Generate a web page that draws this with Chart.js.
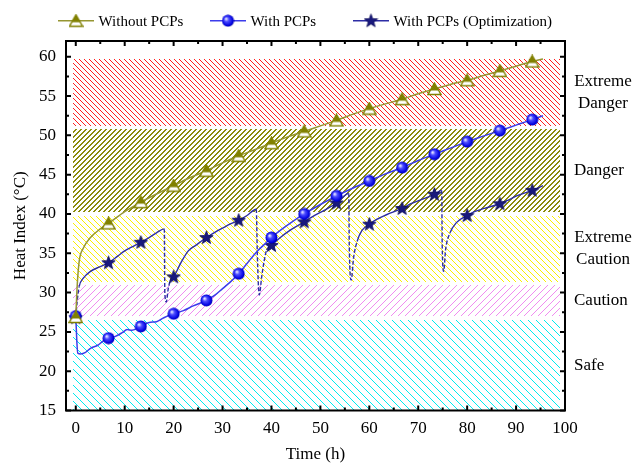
<!DOCTYPE html>
<html>
<head>
<meta charset="utf-8">
<script src="https://cdn.jsdelivr.net/npm/chart.js@4.4.0/dist/chart.umd.min.js"></script>
<style>
    html, body { margin: 0; padding: 0; background: #fff; }
    #wrap { width: 634px; height: 468px; }
</style>
</head>
<body>
<div id="wrap"><canvas id="chart" width="634" height="468"></canvas></div>
<script>
const markerTimes = [0, 6.7, 13.3, 20, 26.7, 33.3, 40, 46.7, 53.3, 60, 66.7, 73.3, 80, 86.7, 93.3];

// Without PCPs
const withoutX = [0, 0.3, 0.7, 1.5, 3, 5, 6.7, 10, 13.3, 16.7, 20, 23.3, 26.7, 30, 33.3, 36.7, 40, 43.3, 46.7,
    50, 53.3, 56.7, 60, 63.3, 66.7, 70, 73.3, 76.7, 80, 83.3, 86.7, 90, 93.3, 95.5];
const withoutY = [26.9, 31, 34, 35.6, 37, 38.1, 38.8, 40.3, 41.5, 42.6, 43.6, 44.6, 45.5, 46.5, 47.4, 48.2, 49.0, 49.8, 50.5,
    51.2, 51.9, 52.7, 53.4, 54.0, 54.6, 55.3, 55.9, 56.5, 57.0, 57.6, 58.2, 58.8, 59.4, 59.7];

// With PCPs
const withX = [0, 0.2, 0.4, 1, 2, 3, 4.5, 5.5, 6.7, 8, 9.5, 10.5, 11.5, 13.3, 15, 16.5, 18, 20, 22, 24, 26.7,
    28.5, 30, 31.5, 33.3, 35, 37, 38.5, 40, 42, 44, 46.7, 50, 53.3, 56.7, 60, 63.3, 66.7, 70, 73.3, 76.7,
    80, 83.3, 86.7, 90, 93.3, 95.5];
const withY = [27, 24, 22.3, 22.2, 22.4, 22.9, 23.3, 23.8, 24.2, 24.4, 24.9, 25.3, 25.2, 25.7, 26.2, 26.3, 26.8, 27.3, 27.7, 28.3, 29.0,
    29.7, 30.5, 31.3, 32.4, 33.7, 35.2, 36.1, 37.0, 38.0, 38.9, 40.0, 41.2, 42.3, 43.3, 44.2, 45.1, 45.9, 46.8, 47.6, 48.4,
    49.2, 49.9, 50.6, 51.3, 52.0, 52.5];

// With PCPs (Optimization)
const optX = [0, 0.3, 0.7, 1.5, 3, 5, 6.7, 8.5, 10, 11.5, 13.3, 15, 16.5, 18.1, 18.2, 18.5, 18.9, 19.3, 20,
    21.5, 23, 24.5, 26.7, 28.5, 30, 31.5, 33.3, 35, 36.9, 37.1, 37.5, 38, 38.5, 39, 40, 42, 44, 46.7,
    48.5, 50, 51.5, 53.3, 55.8, 55.9, 56.3, 56.8, 57.5, 58.5, 60, 61.5, 63.5, 66.7, 68.5, 70.5, 73.3,
    74.8, 74.9, 75.2, 75.6, 76.5, 77.8, 80, 81.5, 83.5, 86.7, 88.5, 90.5, 93.3, 95.5];
const optY = [26.8, 29, 30.8, 31.8, 32.7, 33.3, 33.8, 34.6, 35.3, 35.8, 36.4, 37.0, 37.6, 38.1, 30, 28.8, 30.5, 31.5, 32.0,
    33.8, 35.3, 36.0, 37.0, 37.7, 38.2, 38.7, 39.2, 39.8, 40.6, 35, 29.7, 32, 34, 35.4, 36.0, 37.1, 38, 39.0,
    39.7, 40.2, 40.7, 41.4, 42.6, 36, 31.6, 34.5, 36.5, 37.9, 38.7, 39.3, 39.9, 40.7, 41.3, 41.8, 42.5,
    43.0, 36, 32.7, 35.5, 37.6, 38.9, 39.8, 40.3, 40.7, 41.3, 41.8, 42.4, 43.0, 43.6];

const xTicks = [0, 10, 20, 30, 40, 50, 60, 70, 80, 90, 100];
const yTicks = [15, 20, 25, 30, 35, 40, 45, 50, 55, 60];

// heat index zones
const bandLow = [15, 27, 31.4, 40.2, 51.2];
const bandHigh = [26.5, 31, 39.8, 50.8, 59.7];
const bandNames = [['Safe'], ['Caution'], ['Extreme', 'Caution'], ['Danger'], ['Extreme', 'Danger']];
const bandStart = -0.5, bandEnd = 99;

const serif = '"Liberation Serif", "Times New Roman", serif';
const olive = 'rgb(128,128,0)';

function makeCanvas(w, h, draw) {
    const c = document.createElement('canvas');
    c.width = w;
    c.height = h;
    draw(c.getContext('2d'));
    return c;
}

// crisp diagonal hatch tile
function hatch(color, size, dir, width) {
    return makeCanvas(size, size, g => {
        g.fillStyle = color;
        for (let i = 0; i < size; i++) {
            for (let w = 0; w < width; w++) {
                const px = (i + w) % size;
                g.fillRect(px, dir === '\\' ? i : size - 1 - i, 1, 1);
            }
        }
    });
}

const bandHatch = [
    hatch('rgb(0,235,240)', 8, '\\', 1),
    hatch('rgb(240,140,240)', 7, '/', 1),
    hatch('rgb(250,240,0)', 6, '\\', 1),
    hatch('rgb(140,140,10)', 5, '/', 2),
    hatch('rgb(255,30,30)', 5, '\\', 1),
];

const triangleImg = makeCanvas(15, 14, g => {
    g.beginPath();
    g.moveTo(7.5, 1);
    g.lineTo(14, 12.5);
    g.lineTo(1, 12.5);
    g.closePath();
    g.fillStyle = '#fff';
    g.fill();
    g.save();
    g.clip();
    g.fillStyle = olive;
    g.fillRect(0, 0, 15, 8.5);
    g.restore();
    g.strokeStyle = olive;
    g.lineWidth = 1.4;
    g.stroke();
});

const sphereImg = makeCanvas(13, 13, g => {
    const grad = g.createRadialGradient(4.5, 4.5, 0.5, 6.5, 6.5, 6.5);
    grad.addColorStop(0, '#e8e8ff');
    grad.addColorStop(0.3, '#4d4dff');
    grad.addColorStop(0.8, '#0000e0');
    grad.addColorStop(1, '#00008a');
    g.beginPath();
    g.arc(6.5, 6.5, 6, 0, Math.PI * 2);
    g.fillStyle = grad;
    g.fill();
});

const starImg = makeCanvas(15, 15, g => {
    g.beginPath();
    for (let i = 0; i < 10; i++) {
        const r = i % 2 === 0 ? 7 : 2.9;
        const a = -Math.PI / 2 + i * Math.PI / 5;
        const px = 7.5 + r * Math.cos(a), py = 7.8 + r * Math.sin(a);
        if (i === 0) g.moveTo(px, py); else g.lineTo(px, py);
    }
    g.closePath();
    g.fillStyle = 'rgb(25,25,125)';
    g.fill();
    g.strokeStyle = 'rgb(10,10,90)';
    g.lineWidth = 0.8;
    g.stroke();
});

const isMarker = ctx => ctx.raw && markerTimes.includes(ctx.raw.x) ? 6 : 0;
const toPoints = (xs, ys) => xs.map((x, i) => ({ x: x, y: ys[i] }));

const bandsPlugin = {
    id: 'bands',
    beforeDatasetsDraw(chart) {
        const { ctx, scales: { x, y } } = chart;
        const x0 = Math.round(x.getPixelForValue(bandStart)), x1 = Math.round(x.getPixelForValue(bandEnd));
        ctx.save();
        bandLow.forEach((lo, i) => {
            const yTop = Math.round(y.getPixelForValue(bandHigh[i])), yBot = Math.round(y.getPixelForValue(lo));
            ctx.fillStyle = ctx.createPattern(bandHatch[i], 'repeat');
            ctx.fillRect(x0, yTop, x1 - x0, yBot - yTop);
        });
        ctx.restore();
    },
    afterDatasetsDraw(chart) {
        // frame with inward ticks on all four sides
        const { ctx, chartArea: a, scales: { x, y } } = chart;
        ctx.save();
        ctx.strokeStyle = '#000';
        ctx.lineWidth = 2;
        ctx.strokeRect(a.left, a.top, a.right - a.left, a.bottom - a.top);
        ctx.beginPath();
        for (let v = 0; v <= 100; v += 5) {
            const px = x.getPixelForValue(v), len = v % 10 === 0 ? 5 : 3;
            ctx.moveTo(px, a.bottom); ctx.lineTo(px, a.bottom - len);
            ctx.moveTo(px, a.top); ctx.lineTo(px, a.top + len);
        }
        for (let v = 15; v <= 60; v += 2.5) {
            const py = y.getPixelForValue(v), len = v % 5 === 0 ? 5 : 3;
            ctx.moveTo(a.left, py); ctx.lineTo(a.left + len, py);
            ctx.moveTo(a.right, py); ctx.lineTo(a.right - len, py);
        }
        ctx.stroke();
        ctx.restore();
    },
    afterDraw(chart) {
        const { ctx, scales: { y } } = chart;
        ctx.save();
        ctx.fillStyle = '#000';
        ctx.textBaseline = 'middle';
        ctx.font = '17px ' + serif;
        bandNames.forEach((lines, i) => {
            const yc = y.getPixelForValue((bandLow[i] + bandHigh[i]) / 2);
            if (lines.length === 1) {
                ctx.textAlign = 'left';
                ctx.fillText(lines[0], 574, yc);
            } else {
                ctx.textAlign = 'center';
                ctx.fillText(lines[0], 603, yc - 11);
                ctx.fillText(lines[1], 603, yc + 11);
            }
        });

        // legend
        const legendX = [58, 210, 353];
        const ly = 20.7;
        ctx.font = '15px ' + serif;
        ctx.textAlign = 'left';
        chart.data.datasets.forEach((ds, i) => {
            const lx = legendX[i];
            ctx.strokeStyle = ds.borderColor;
            ctx.lineWidth = 1.5;
            ctx.beginPath();
            ctx.moveTo(lx, ly);
            ctx.lineTo(lx + 36, ly);
            ctx.stroke();
            const img = ds.pointStyle;
            ctx.drawImage(img, lx + 18 - img.width / 2, ly - img.height / 2);
            ctx.fillStyle = '#000';
            ctx.fillText(ds.label, lx + 40.5, ly + 1);
        });
        ctx.restore();
    }
};

const steepDash = ctx => {
    const dx = Math.abs(ctx.p1.x - ctx.p0.x), dy = Math.abs(ctx.p1.y - ctx.p0.y);
    return dy > 3 * dx ? [4, 2] : undefined;
};

const data = {
    datasets: [
        {
            label: 'Without PCPs',
            data: toPoints(withoutX, withoutY),
            borderColor: 'rgb(150,150,50)',
            borderWidth: 1.5,
            pointStyle: triangleImg,
            pointRadius: isMarker,
            pointHoverRadius: 0,
            cubicInterpolationMode: 'monotone',
        },
        {
            label: 'With PCPs',
            data: toPoints(withX, withY),
            borderColor: 'rgb(60,60,235)',
            borderWidth: 1.5,
            pointStyle: sphereImg,
            pointRadius: isMarker,
            pointHoverRadius: 0,
            cubicInterpolationMode: 'monotone',
        },
        {
            label: 'With PCPs (Optimization)',
            data: toPoints(optX, optY),
            borderColor: 'rgb(45,45,165)',
            borderWidth: 1.4,
            pointStyle: starImg,
            pointRadius: isMarker,
            pointHoverRadius: 0,
            cubicInterpolationMode: 'monotone',
            segment: { borderDash: steepDash },
        }
    ]
};

const tickFont = { family: serif, size: 17 };

const config = {
    type: 'line',
    data: data,
    options: {
        responsive: false,
        animation: false,
        events: [],
        layout: { padding: { top: 41, right: 69, left: 0, bottom: 0 } },
        scales: {
            x: {
                type: 'linear',
                min: -2,
                max: 100,
                afterBuildTicks: s => { s.ticks = xTicks.map(v => ({ value: v })); },
                afterFit: s => { s.height = 57.5; },
                grid: { display: false, drawTicks: false },
                border: { display: false },
                ticks: { font: tickFont, color: '#000', padding: 8, maxRotation: 0, autoSkip: false },
                title: { display: true, text: 'Time (h)', font: tickFont, color: '#000', padding: { top: 0, bottom: 3 } },
            },
            y: {
                min: 15,
                max: 62,
                afterBuildTicks: s => { s.ticks = yTicks.map(v => ({ value: v })); },
                afterFit: s => { s.width = 66; },
                grid: { display: false, drawTicks: false },
                border: { display: false },
                ticks: { font: tickFont, color: '#000', padding: 10 },
                title: { display: true, text: 'Heat Index (°C)', font: tickFont, color: '#000', padding: { top: 10, bottom: 0 } },
            },
        },
        plugins: {
            legend: { display: false },
            tooltip: { enabled: false },
        },
    },
    plugins: [bandsPlugin],
};

const ctx = document.getElementById('chart').getContext('2d');
const chart = new Chart(ctx, config);
</script>
</body>
</html>
